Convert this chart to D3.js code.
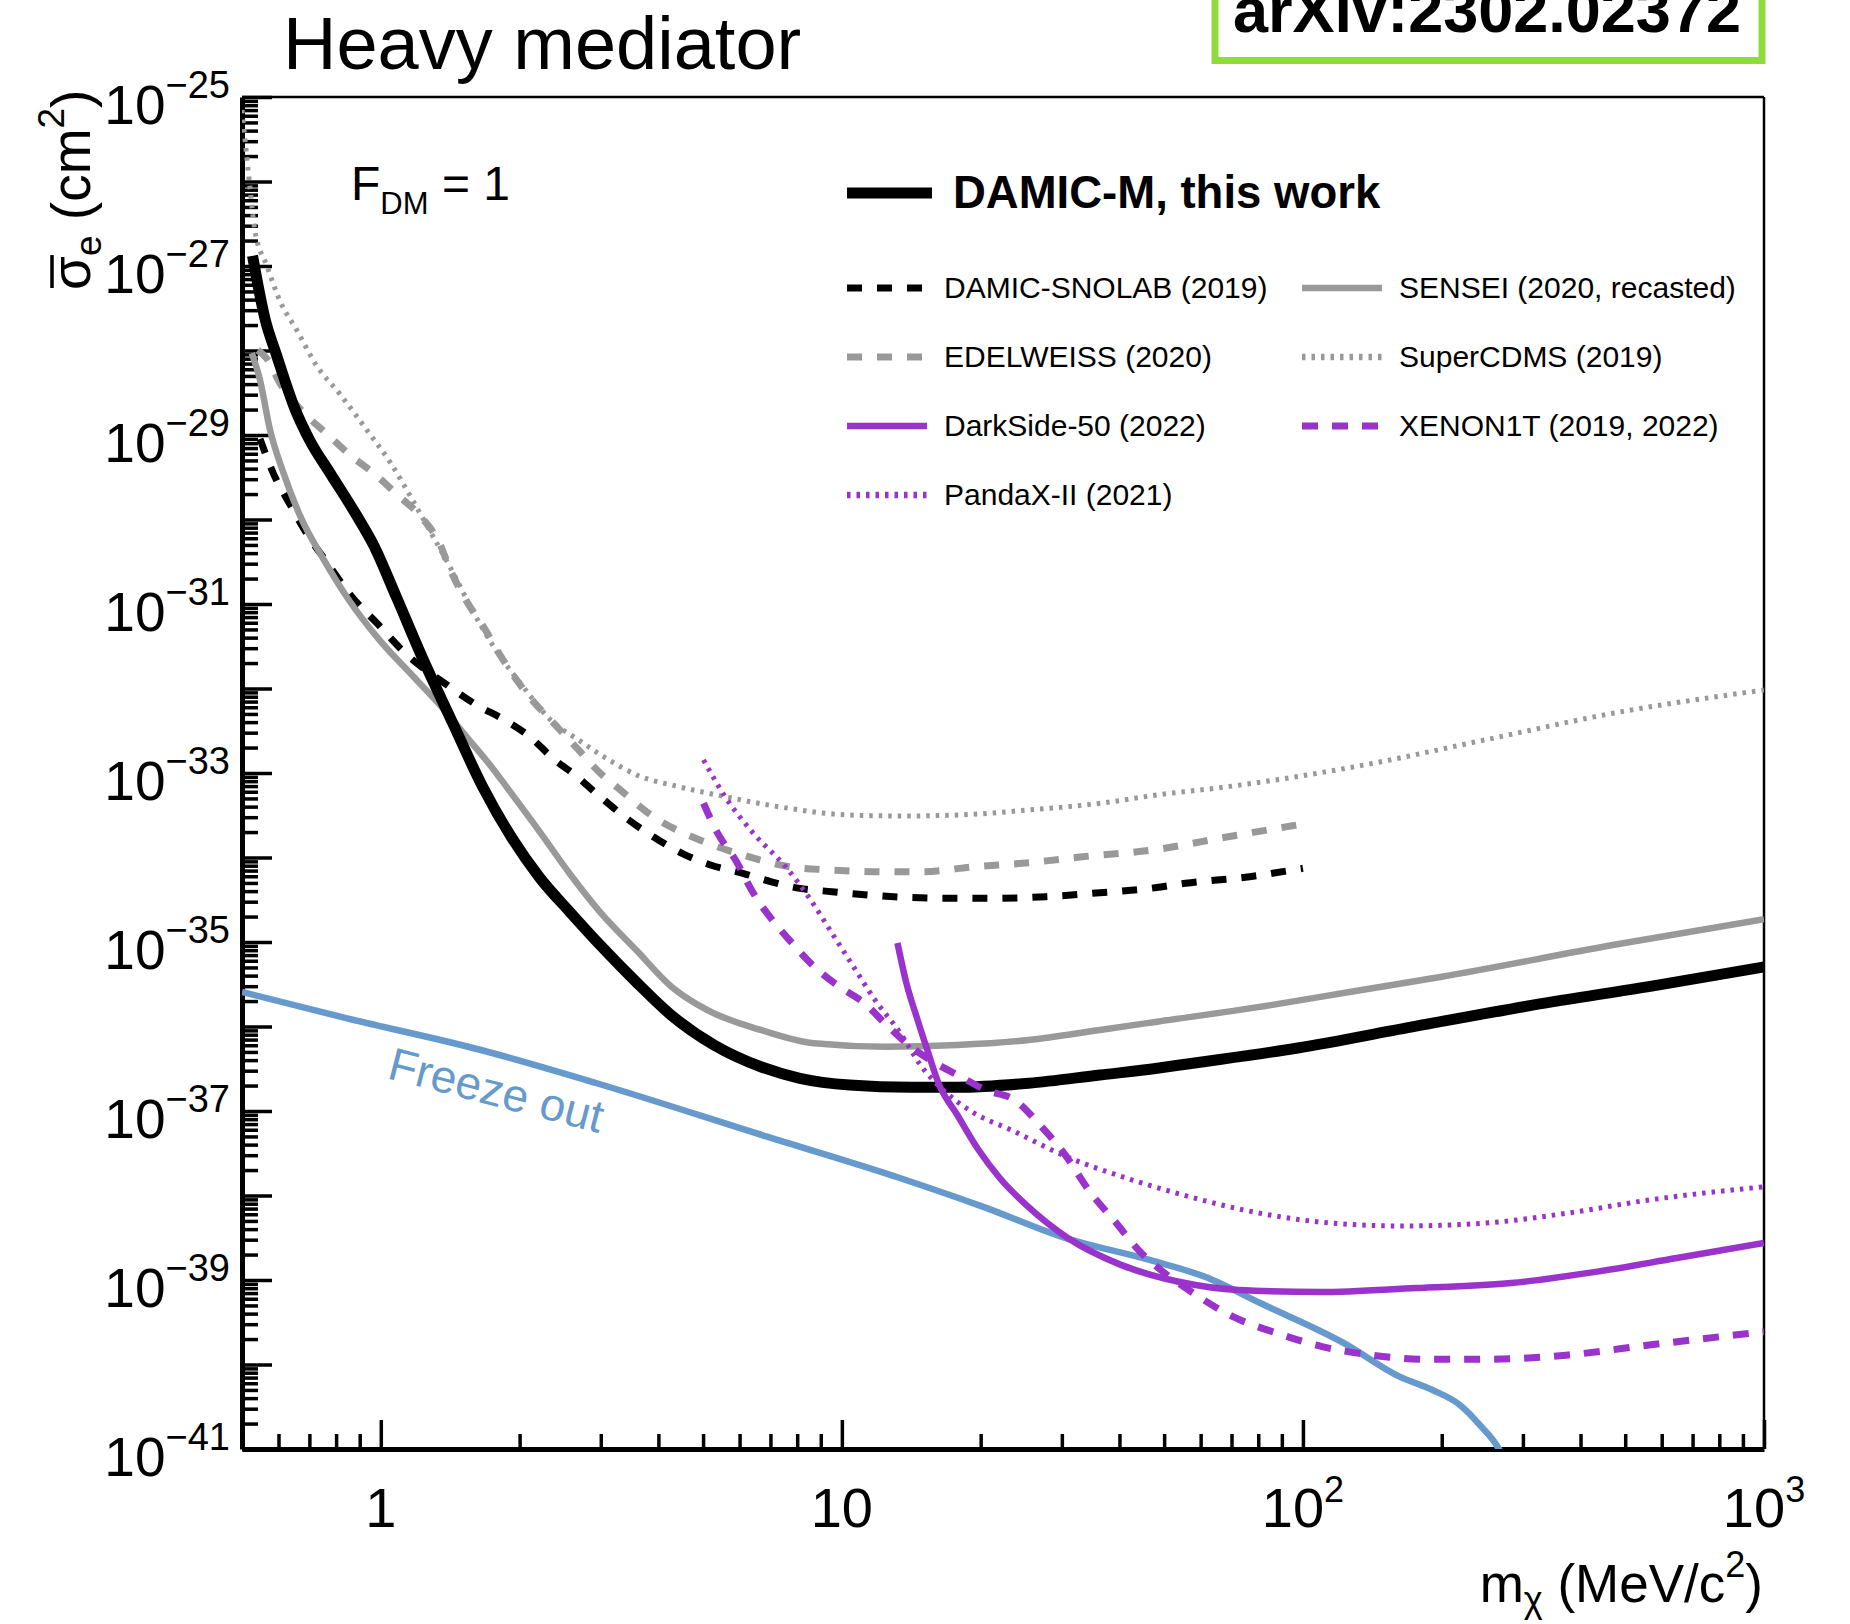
<!DOCTYPE html>
<html><head><meta charset="utf-8">
<script src="https://cdn.jsdelivr.net/npm/d3@7"></script>
<style>
html,body{margin:0;padding:0;background:#fff;}
svg{display:block;}
text{font-family:"Liberation Sans",Arial,Helvetica,sans-serif;}
</style></head><body>
<svg id="chart" width="1850" height="1624"></svg>
<script>
// ---------------- DATA (m_chi in MeV/c^2, sigma_e in cm^2) ----------------
const damicM = [
 [0.527,1.32e-27],[0.561,2.36e-28],[0.594,8.85e-29],[0.651,2.05e-29],[0.702,8.55e-30],
 [0.776,3.55e-30],[0.887,1.11e-30],[0.962,5.13e-31],[1.083,1.18e-31],[1.233,2.26e-32],
 [1.432,3.91e-33],[1.664,6.82e-34],[1.925,1.70e-34],[2.214,5.72e-35],[2.572,2.26e-35],
 [2.99,9.2e-36],[3.58,3.36e-36],[4.26,1.37e-36],[5.28,6.04e-37],[6.67,3.34e-37],
 [8.11,2.44e-37],[10.4,2.03e-37],[14.1,1.91e-37],[17.8,1.91e-37],[25.4,2.13e-37],
 [36.3,2.67e-37],[48.3,3.20e-37],[54.1,3.50e-37],[97.5,5.57e-37],[176,1.01e-36],
 [317,1.80e-36],[571,3.01e-36],[1000,5.06e-36]
];
const sensei = [
 [0.525,9.3e-29],[0.547,4.48e-29],[0.575,1.15e-29],[0.615,3.56e-30],[0.668,1.11e-30],
 [0.750,3.44e-31],[0.857,1.07e-31],[0.996,3.68e-32],[1.176,1.39e-32],[1.344,6.38e-33],
 [1.536,2.67e-33],[1.754,1.11e-33],[1.875,6.82e-34],[2.214,2.0e-34],[2.572,6.38e-35],
 [2.99,2.26e-35],[3.58,8.04e-36],[4.27,2.96e-36],[5.10,1.57e-36],[6.67,9.1e-37],
 [8.70,6.33e-37],[12.4,5.77e-37],[17.8,6.04e-37],[25.4,6.92e-37],[36.3,9.1e-37],
 [48.3,1.14e-36],[85.2,1.79e-36],[130,2.63e-36],[200,3.88e-36],[470,9.2e-36],[1000,1.86e-35]
];
const damicSnolab = [
 [0.547,9.0e-30],[0.584,3.56e-30],[0.636,1.49e-30],[0.691,6.81e-31],[0.763,3.14e-31],
 [0.857,1.30e-31],[0.996,5.43e-32],[1.119,2.75e-32],[1.413,1.04e-32],[1.614,6.38e-33],
 [1.844,4.33e-33],[2.107,2.67e-33],[2.366,1.48e-33],[2.66,9.12e-34],[2.99,5.25e-34],
 [3.45,2.78e-34],[3.90,1.76e-34],[4.50,1.12e-34],[5.19,8.15e-35],[6.10,6.5e-35],
 [7.03,5.16e-35],[8.11,4.31e-35],[9.52,3.94e-35],[11.4,3.6e-35],[13.6,3.38e-35],
 [17.8,3.29e-35],[21.3,3.29e-35],[27.7,3.44e-35],[36.3,3.83e-35],[46.6,4.31e-35],
 [55.6,4.95e-35],[76.6,5.93e-35],[100,7.45e-35]
];
const edelweiss = [
 [0.541,1.01e-28],[0.566,8.02e-29],[0.605,4.06e-29],[0.691,1.69e-29],[0.763,1.04e-29],
 [0.857,5.8e-30],[0.963,3.56e-30],[1.083,1.99e-30],[1.216,1.11e-30],[1.344,5.09e-31],
 [1.413,2.58e-31],[1.536,1.07e-31],[1.668,5.43e-32],[1.814,2.49e-32],[1.971,1.26e-32],
 [2.142,7.03e-33],[2.366,3.92e-33],[2.66,1.98e-33],[2.99,1.0e-33],[3.25,6.82e-34],
 [3.90,3.04e-34],[4.92,1.61e-34],[6.10,1.07e-34],[7.69,7.78e-35],[9.52,7.11e-35],
 [12.4,6.79e-35],[14.9,6.79e-35],[19.4,7.78e-35],[25.4,8.67e-35],[33.2,1.02e-34],
 [47.4,1.23e-34],[68.8,1.76e-34],[100,2.49e-34]
];
const superCDMS = [
 [0.5,7.0e-26],[0.512,1.97e-26],[0.520,8.68e-27],[0.533,2.67e-27],[0.566,1.01e-27],
 [0.605,3.81e-28],[0.657,1.75e-28],[0.726,6.61e-29],[0.816,3.03e-29],[0.932,1.15e-29],
 [1.047,4.79e-30],[1.176,1.64e-30],[1.300,6.21e-31],[1.436,2.33e-31],[1.587,8.04e-32],
 [1.784,2.75e-32],[2.038,1.04e-32],[2.328,4.32e-33],[2.70,2.41e-33],[3.09,1.48e-33],
 [3.65,9.12e-34],[4.31,7.13e-34],[5.58,5.25e-34],[7.29,3.99e-34],[10.4,3.18e-34],
 [13.6,3.10e-34],[17.8,3.18e-34],[25.4,3.65e-34],[36.3,4.38e-34],[48.3,5.50e-34],
 [68.8,6.89e-34],[130,1.19e-33],[248,2.46e-33],[470,5.09e-33],[1000,9.6e-33]
];
const darkSide50 = [
 [13.2,9.73e-36],[13.8,3.27e-36],[14.6,1.19e-36],[15.4,4.85e-37],[16.2,2.14e-37],
 [17.8,8.97e-38],[19.8,3.45e-38],[22.0,1.61e-38],[25.1,7.72e-39],[30.9,3.14e-39],
 [40.3,1.51e-39],[54.1,9.46e-40],[72.6,7.62e-40],[109,7.21e-40],[176,8.04e-40],
 [283,9.2e-40],[428,1.24e-39],[647,1.82e-39],[1000,2.74e-39]
];
const xenon1T = [
 [5.01,4.38e-34],[5.38,1.93e-34],[5.88,9.33e-35],[6.43,3.77e-35],[7.16,1.66e-35],
 [7.69,1.06e-35],[8.71,5.1e-36],[9.87,2.96e-36],[11.2,1.88e-36],[12.4,1.09e-36],
 [14.1,5.77e-37],[16.0,3.66e-37],[18.1,2.55e-37],[20.5,1.77e-37],[23.7,1.35e-37],
 [26.9,6.83e-38],[30.7,2.88e-38],[34.3,1.16e-38],[39.4,4.69e-39],[44.0,2.26e-39],
 [49.2,1.31e-39],[56.5,7.62e-40],[70.5,3.68e-40],[88.0,2.34e-40],[110,1.63e-40],
 [141,1.29e-40],[186,1.15e-40],[245,1.15e-40],[372,1.29e-40],[563,1.70e-40],[1000,2.44e-40]
];
const pandaXII = [
 [5.01,1.43e-33],[5.58,5.25e-34],[6.43,1.93e-34],[7.55,7.78e-35],[8.56,3.14e-35],
 [9.52,1.27e-35],[10.6,5.1e-36],[11.8,2.06e-36],[13.4,8.31e-37],[14.9,3.34e-37],
 [16.6,1.77e-37],[19.4,9.39e-38],[23.3,5.96e-38],[30.7,2.88e-38],[40.5,1.67e-38],
 [53.4,1.06e-38],[74.5,6.73e-39],[107,4.9e-39],[162,4.36e-39],[245,4.69e-39],
 [372,6.15e-39],[563,8.85e-39],[1000,1.27e-38]
];
const freezeOut = [
 [0.5,2.56e-36],[0.845,1.25e-36],[1.649,5.27e-37],[2.94,2.13e-37],[6.88,4.97e-38],
 [13.4,1.60e-38],[20.2,7.38e-39],[30.7,3.11e-39],[46.5,1.73e-39],[61.3,1.09e-39],
 [81.0,5.30e-40],[123,1.78e-40],[162,7.18e-41],[191,4.99e-41],[219,3.32e-41],
 [242,1.92e-41],[266,1.0e-41],[270,8.5e-42]
];
const xMajorTicks = [1, 10, 100, 1000];
const xTickLabels = [
 {value:1, base:"1", exp:""},
 {value:10, base:"10", exp:""},
 {value:100, base:"10", exp:"2"},
 {value:1000, base:"10", exp:"3"}
];
const yDecadeExponents = [-41,-40,-39,-38,-37,-36,-35,-34,-33,-32,-31,-30,-29,-28,-27,-26,-25];
const yLabelExponents = [-25,-27,-29,-31,-33,-35,-37,-39,-41];

// ---------------- LAYOUT ----------------
const GRAY = "#999999", PURPLE = "#9933cc", BLUE = "#6699cc", BLACK = "#000000";
const plot = {left:242, right:1764, top:97, bottom:1449};
const svg = d3.select("#chart");
const x = d3.scaleLog().domain([0.5, 1000]).range([plot.left, plot.right]);
const y = d3.scaleLog().domain([1e-41, 1e-25]).range([plot.bottom, plot.top]);

svg.append("defs").append("clipPath").attr("id","clip")
  .append("rect").attr("x",plot.left).attr("y",plot.top)
  .attr("width",plot.right-plot.left).attr("height",plot.bottom-plot.top);

const series = [
 {name:"SuperCDMS (2019)", data:superCDMS, color:GRAY, width:5, dash:"3.5,6"},
 {name:"EDELWEISS (2020)", data:edelweiss, color:GRAY, width:7, dash:"15,15"},
 {name:"DAMIC-SNOLAB (2019)", data:damicSnolab, color:BLACK, width:7, dash:"15,15"},
 {name:"SENSEI (2020, recasted)", data:sensei, color:GRAY, width:6.5, dash:null},
 {name:"DAMIC-M, this work", data:damicM, color:BLACK, width:11, dash:null},
 {name:"Freeze out", data:freezeOut, color:BLUE, width:6.5, dash:null},
 {name:"XENON1T (2019, 2022)", data:xenon1T, color:PURPLE, width:7, dash:"16,14"},
 {name:"PandaX-II (2021)", data:pandaXII, color:PURPLE, width:5, dash:"3.5,6"},
 {name:"DarkSide-50 (2022)", data:darkSide50, color:PURPLE, width:6.5, dash:null}
];
const styleOf = {};
series.forEach(s => styleOf[s.name] = s);

// ---------------- AXES (drawn first, curves on top as in ROOT) ----------------
const xMinor = [];
[0.1,1,10,100].forEach(b => d3.range(2,10).forEach(k => { const v=k*b; if (v>0.5 && v<1000) xMinor.push(v); }));
const yMajor = yDecadeExponents.map(e => Math.pow(10,e));
const yMinor = [];
yDecadeExponents.slice(0,-1).forEach(e => d3.range(2,10).forEach(k => yMinor.push(k*Math.pow(10,e))));

function styleAxis(g, w){ g.selectAll(".tick line").attr("stroke","#000").attr("stroke-width",w); g.selectAll("text").remove(); }

svg.append("g").attr("transform",`translate(0,${plot.bottom})`)
  .call(d3.axisBottom(x).tickValues(xMinor).tickSize(-15).tickSizeOuter(0).tickFormat(""))
  .call(g => { g.select(".domain").remove(); styleAxis(g,3.5); });
svg.append("g").attr("transform",`translate(0,${plot.bottom})`)
  .call(d3.axisBottom(x).tickValues(xMajorTicks).tickSize(-29).tickSizeOuter(0).tickFormat(""))
  .call(g => { g.select(".domain").attr("stroke","#000").attr("stroke-width",5); styleAxis(g,3.5); });
svg.append("g").attr("transform",`translate(${plot.left},0)`)
  .call(d3.axisLeft(y).tickValues(yMinor).tickSize(-16).tickSizeOuter(0).tickFormat(""))
  .call(g => { g.select(".domain").remove(); styleAxis(g,3.5); });
svg.append("g").attr("transform",`translate(${plot.left},0)`)
  .call(d3.axisLeft(y).tickValues(yMajor).tickSize(-30).tickSizeOuter(0).tickFormat(""))
  .call(g => { g.select(".domain").attr("stroke","#000").attr("stroke-width",5); styleAxis(g,3.5); });

svg.append("line").attr("x1",plot.left).attr("x2",plot.right).attr("y1",plot.top).attr("y2",plot.top)
  .attr("stroke","#000").attr("stroke-width",2.5);
svg.append("line").attr("x1",plot.right).attr("x2",plot.right).attr("y1",plot.top).attr("y2",plot.bottom)
  .attr("stroke","#000").attr("stroke-width",2.5);

// ---------------- CURVES ----------------
const line = d3.line().x(d => x(d[0])).y(d => y(d[1])).curve(d3.curveMonotoneX);
const curves = svg.append("g").attr("clip-path","url(#clip)");
series.forEach(s => {
  curves.append("path").datum(s.data)
    .attr("d", line).attr("fill","none")
    .attr("stroke", s.color).attr("stroke-width", s.width)
    .attr("stroke-dasharray", s.dash)
    .attr("stroke-linejoin","round").attr("stroke-linecap","butt");
});

// tick labels
xTickLabels.forEach(t => {
  const tx = svg.append("text").attr("x", x(t.value)).attr("y", 1527)
    .attr("text-anchor","middle").attr("font-size",56).text(t.base);
  if (t.exp) tx.append("tspan").attr("font-size",36).attr("dy",-25).text(t.exp);
});
yLabelExponents.forEach(e => {
  const ty = svg.append("text").attr("x", 230).attr("y", y(Math.pow(10,e)) + 27)
    .attr("text-anchor","end").attr("font-size",55).text("10");
  ty.append("tspan").attr("font-size",38).attr("dy",-26).text("\u2212" + Math.abs(e));
});

// axis titles
const xt = svg.append("text").attr("x",1763).attr("y",1602).attr("text-anchor","end").attr("font-size",53);
xt.append("tspan").text("m");
xt.append("tspan").attr("font-size",36).attr("dy",10).text("\u03c7");
xt.append("tspan").attr("dy",-10).text(" (MeV/c");
xt.append("tspan").attr("font-size",36).attr("dy",-25).text("2");
xt.append("tspan").attr("dy",25).text(")");

const yg = svg.append("g").attr("transform","translate(90,290) rotate(-90)");
const yt = yg.append("text").attr("x",0).attr("y",0).attr("font-size",55);
yt.append("tspan").text("\u03c3");
yt.append("tspan").attr("font-size",37).attr("dy",11).text("e");
yt.append("tspan").attr("dy",-11).text(" (cm");
yt.append("tspan").attr("font-size",37).attr("dy",-26).text("2");
yt.append("tspan").attr("dy",26).text(")");
let sw = 30;
try { sw = yt.node().getSubStringLength(0,1); } catch(e) {}
yg.append("line").attr("x1",2).attr("x2",sw+1).attr("y1",-38).attr("y2",-38)
  .attr("stroke","#000").attr("stroke-width",3.5);

// title & labels
svg.append("text").attr("x",283).attr("y",69).attr("font-size",74).text("Heavy mediator");

const fdm = svg.append("text").attr("x",351).attr("y",200).attr("font-size",48);
fdm.append("tspan").text("F");
fdm.append("tspan").attr("font-size",31).attr("dy",14).text("DM");
fdm.append("tspan").attr("dy",-14).text(" = 1");

svg.append("text").attr("transform","translate(386,1078) rotate(14.5)")
  .attr("font-size",46).attr("fill",BLUE).text("Freeze out");

svg.append("rect").attr("x",1215).attr("y",-20).attr("width",547).attr("height",80.5)
  .attr("fill","none").attr("stroke","#8fdb3c").attr("stroke-width",7);
svg.append("text").attr("x",1487).attr("y",32).attr("text-anchor","middle")
  .attr("font-size",63).attr("font-weight","bold").text("arXiv:2302.02372");

// ---------------- LEGEND ----------------
const lg = svg.append("g");
const main = styleOf["DAMIC-M, this work"];
lg.append("line").attr("x1",847).attr("x2",932).attr("y1",193).attr("y2",193)
  .attr("stroke",main.color).attr("stroke-width",11);
lg.append("text").attr("x",953).attr("y",208).attr("font-size",45.5).attr("font-weight","bold").text(main.name);

const legendRows = [
 ["DAMIC-SNOLAB (2019)","SENSEI (2020, recasted)"],
 ["EDELWEISS (2020)","SuperCDMS (2019)"],
 ["DarkSide-50 (2022)","XENON1T (2019, 2022)"],
 ["PandaX-II (2021)"]
];
const colX = [847, 1302], rowY0 = 288, rowDY = 69;
legendRows.forEach((row, r) => row.forEach((name, c) => {
  const s = styleOf[name], yy = rowY0 + r*rowDY, x0 = colX[c];
  lg.append("line").attr("x1",x0).attr("x2",x0+80).attr("y1",yy).attr("y2",yy)
    .attr("stroke",s.color).attr("stroke-width", Math.max(s.width,6.5)).attr("stroke-dasharray",s.dash);
  lg.append("text").attr("x",x0+97).attr("y",yy+10).attr("font-size",30).text(name);
}));
</script>
</body></html>
